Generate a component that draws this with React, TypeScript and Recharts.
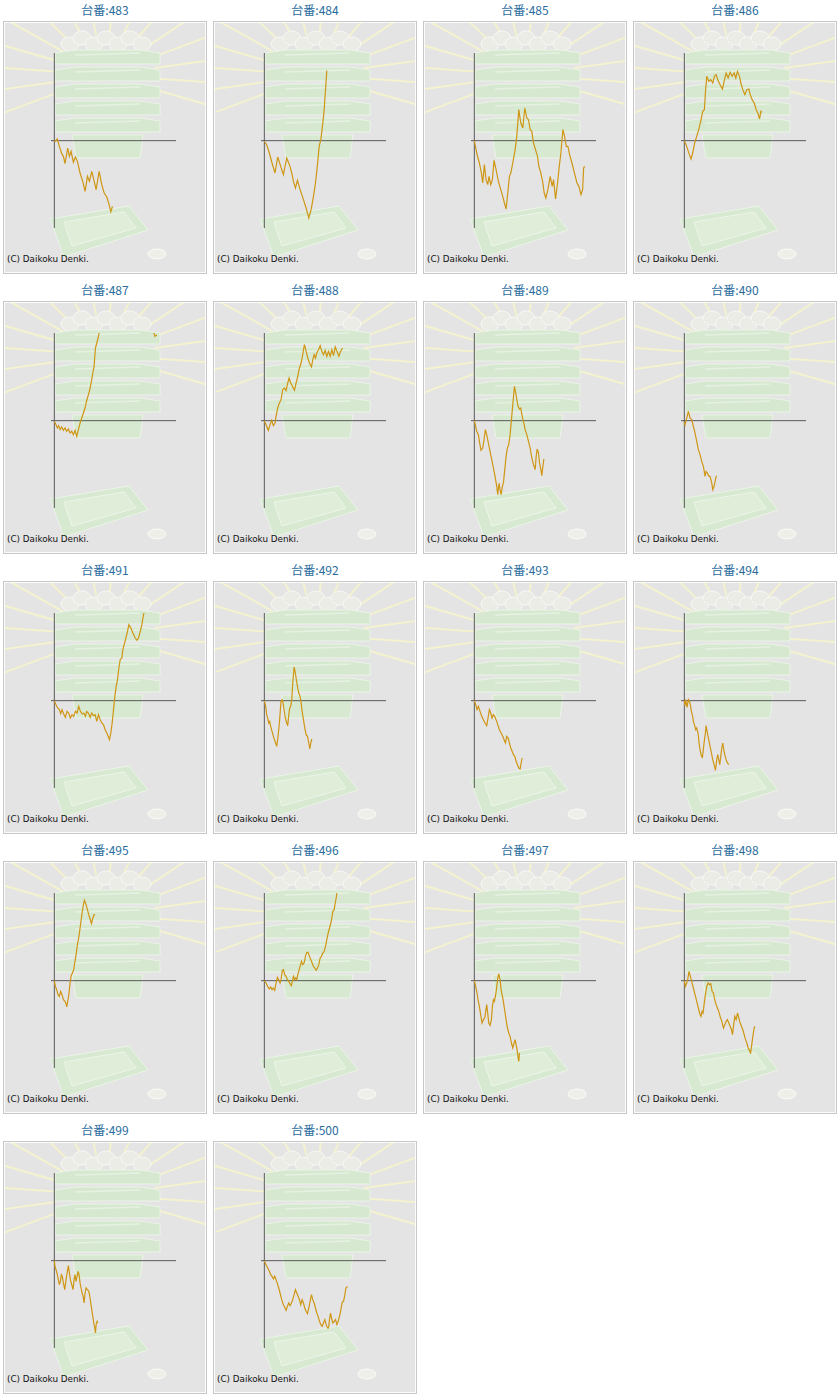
// Slot machine coin difference graphs, machines 483-500

import { LineChart, Line, XAxis, YAxis, ReferenceLine } from 'recharts';

// each point: [games, coin difference] (arbitrary units)
const m483: [number, number][] = [
  [0, 0], [2, -2], [9, 5], [15, -17], [22, -39], [27, -47], [32, -69], [40, -22], [45, -47],
  [50, -32], [57, -65], [63, -49], [69, -62], [77, -97], [85, -122], [92, -152], [99, -107],
  [105, -122], [112, -92], [118, -117], [125, -147], [134, -92], [142, -132], [149, -157],
  [157, -169], [163, -189], [169, -213], [174, -197],
];
const m484: [number, number][] = [
  [0, -2], [7, -12], [15, -37], [23, -67], [32, -97], [40, -49], [49, -77], [57, -102], [67, -52],
  [75, -72], [82, -97], [87, -122], [93, -142], [99, -119], [107, -147], [117, -177], [125, -202],
  [133, -232], [140, -207], [147, -167], [153, -127], [159, -72], [164, -17], [169, 3], [175, 53],
  [179, 93], [183, 153], [187, 210],
];
const m485: [number, number][] = [
  [0, 0], [7, -37], [15, -67], [21, -97], [25, -127], [30, -72], [35, -117], [40, -132], [44, -107],
  [49, -132], [54, -117], [59, -59], [65, -87], [72, -122], [79, -147], [85, -167], [90, -187],
  [95, -205], [100, -157], [105, -107], [109, -97], [115, -67], [122, -27], [127, 13], [133, 93],
  [139, 53], [145, 38], [151, 98], [157, 68], [162, 63], [167, 33], [172, 28], [177, -7], [183, -27],
  [189, -47], [193, -77], [199, -97], [205, -127], [209, -157], [214, -172], [220, -147], [227, -107],
  [233, -137], [237, -117], [243, -175], [249, -127], [254, -77], [259, -37], [265, 33], [270, 13],
  [275, -17], [280, -17], [285, -42], [292, -67], [297, -87], [302, -107], [307, -127], [313, -137],
  [319, -162], [324, -147], [327, -82], [330, -77],
];
const m486: [number, number][] = [
  [0, 0], [7, -17], [15, -42], [20, -55], [25, -37], [31, -7], [37, 13], [43, 33], [49, 58], [55, 88],
  [60, 93], [63, 143], [67, 193], [73, 178], [79, 183], [85, 173], [90, 193], [95, 198], [100, 183],
  [107, 168], [114, 155], [119, 178], [125, 203], [131, 188], [137, 205], [143, 193], [149, 203],
  [154, 188], [159, 208], [165, 193], [169, 173], [175, 153], [181, 138], [187, 153], [193, 155],
  [197, 138], [203, 123], [209, 113], [215, 93], [220, 83], [225, 65], [229, 88], [232, 85],
];
const m487: [number, number][] = [
  [0, -2], [5, -12], [9, -22], [13, -15], [17, -27], [22, -19], [27, -29], [32, -22], [37, -32],
  [42, -25], [47, -37], [52, -32], [57, -42], [62, -29], [67, -47], [72, -27], [77, -7], [82, 8],
  [87, 23], [92, 38], [95, 53], [99, 68], [104, 85], [107, 98], [111, 118], [115, 143], [119, 163],
  [121, 193], [123, 218], [127, 233], [131, 248], [134, 263], [150, 300], [190, 360], [230, 340],
  [265, 310], [290, 290], [301, 253], [307, 257],
];
const m488: [number, number][] = [
  [0, 0], [5, -12], [12, -29], [17, -12], [22, 1], [27, -15], [32, -7], [35, 13], [40, 38], [45, 53],
  [50, 63], [55, 93], [60, 98], [65, 90], [70, 113], [74, 128], [79, 113], [84, 103], [90, 91],
  [95, 113], [100, 133], [105, 158], [110, 173], [114, 193], [117, 213], [120, 228], [125, 208],
  [130, 188], [135, 173], [141, 161], [145, 183], [149, 198], [153, 188], [157, 203], [162, 213],
  [167, 225], [172, 208], [177, 198], [182, 211], [187, 193], [192, 208], [197, 193], [202, 213],
  [207, 195], [212, 221], [217, 208], [223, 193], [227, 205], [234, 218],
];
const m489: [number, number][] = [
  [0, 0], [4, -17], [7, -32], [12, -42], [15, -62], [20, -89], [25, -82], [29, -57], [33, -27],
  [37, -42], [42, -67], [47, -92], [52, -117], [57, -142], [62, -167], [67, -197], [70, -222],
  [74, -187], [77, -207], [80, -222], [84, -197], [87, -187], [91, -147], [95, -107], [99, -82],
  [103, -72], [107, -42], [111, 3], [115, 48], [120, 103], [124, 83], [127, 63], [131, 43], [135, 35],
  [139, 38], [143, 13], [147, -2], [152, -27], [157, -42], [162, -62], [167, -82], [172, -112],
  [177, -132], [182, -147], [185, -107], [188, -85], [192, -97], [195, -127], [199, -147],
  [202, -165], [205, -137], [208, -115],
];
const m490: [number, number][] = [
  [0, -5], [2, -12], [6, 3], [12, 28], [17, 8], [22, 3], [27, -17], [32, -37], [37, -62], [42, -87],
  [47, -102], [52, -122], [57, -137], [62, -167], [65, -152], [69, -157], [72, -165], [77, -167],
  [82, -187], [85, -207], [89, -197], [93, -177], [96, -165],
];
const m491: [number, number][] = [
  [0, 0], [5, -12], [10, -22], [15, -27], [19, -39], [23, -27], [28, -40], [33, -50], [38, -32],
  [43, -37], [48, -52], [53, -42], [58, -47], [63, -32], [68, -37], [73, -17], [78, -32], [83, -40],
  [88, -37], [93, -47], [97, -32], [102, -37], [107, -50], [112, -37], [117, -45], [122, -42],
  [127, -62], [132, -42], [137, -57], [142, -67], [147, -72], [152, -87], [157, -97], [161, -107],
  [165, -117], [169, -97], [173, -67], [177, -27], [181, 13], [185, 43], [189, 63], [193, 98],
  [197, 123], [202, 128], [205, 153], [209, 168], [214, 188], [219, 208], [223, 228], [229, 218],
  [235, 203], [242, 188], [247, 181], [252, 188], [257, 208], [262, 228], [265, 248], [268, 263],
];
const m492: [number, number][] = [
  [0, 0], [4, -17], [7, -42], [10, -52], [13, -67], [16, -62], [19, -77], [23, -92], [27, -107],
  [32, -122], [37, -137], [41, -107], [45, -67], [48, -27], [50, -2], [53, 3], [56, -7], [59, -27],
  [63, -52], [67, -67], [70, -75], [73, -42], [76, -22], [79, -17], [82, 3], [85, 53], [89, 101],
  [92, 88], [95, 68], [99, 43], [103, 23], [107, 13], [110, -7], [113, -32], [117, -57], [121, -82],
  [125, -102], [129, -107], [133, -127], [136, -145], [139, -127], [142, -115],
];
const m493: [number, number][] = [
  [0, 0], [4, -12], [8, -27], [12, -17], [17, -32], [22, -47], [27, -57], [32, -67], [37, -75],
  [41, -52], [45, -27], [49, -37], [53, -52], [57, -42], [61, -47], [65, -57], [70, -72], [75, -87],
  [80, -97], [85, -107], [89, -117], [93, -127], [97, -107], [101, -112], [105, -127], [109, -142],
  [113, -152], [117, -162], [121, -167], [125, -182], [129, -192], [133, -202], [137, -205],
  [140, -187], [143, -172],
];
const m494: [number, number][] = [
  [0, 0], [2, -15], [4, 3], [8, -20], [12, 3], [17, -7], [21, -32], [25, -47], [27, -62], [31, -75],
  [34, -87], [37, -82], [41, -97], [44, -127], [47, -147], [50, -162], [54, -172], [59, -127],
  [63, -97], [65, -75], [69, -97], [73, -117], [77, -137], [81, -157], [85, -177], [89, -192],
  [93, -209], [97, -177], [100, -162], [103, -177], [106, -192], [109, -167], [112, -142],
  [115, -127], [118, -147], [121, -162], [125, -177], [129, -187], [133, -192],
];
const m495: [number, number][] = [
  [0, 0], [3, -17], [7, -27], [11, -42], [15, -47], [19, -32], [23, -42], [27, -57], [32, -62],
  [35, -69], [37, -79], [41, -57], [44, -37], [47, -7], [50, 13], [54, 23], [58, 33], [61, 53],
  [65, 78], [69, 108], [72, 123], [75, 143], [79, 173], [83, 203], [87, 228], [90, 241], [95, 228],
  [99, 213], [103, 198], [107, 185], [111, 171], [115, 188], [119, 198], [122, 198],
];
const m496: [number, number][] = [
  [0, 0], [5, -7], [10, -17], [15, -25], [19, -19], [23, -27], [27, -22], [31, -29], [35, -7],
  [39, 10], [43, 3], [47, -7], [50, 3], [54, 31], [57, 33], [61, 18], [65, 13], [69, 3], [73, -2],
  [77, -9], [81, -15], [85, 3], [87, 13], [91, 3], [94, 8], [97, 3], [100, 18], [103, 28], [107, 43],
  [111, 58], [115, 48], [119, 53], [123, 73], [127, 85], [131, 85], [135, 73], [139, 63], [143, 53],
  [147, 43], [151, 38], [155, 31], [159, 38], [163, 48], [167, 68], [171, 73], [175, 83], [179, 88],
  [183, 103], [187, 123], [191, 143], [195, 158], [199, 173], [202, 188], [205, 208], [209, 213],
  [212, 233], [215, 248], [217, 263],
];
const m497: [number, number][] = [
  [0, 0], [4, -17], [8, -37], [11, -57], [15, -77], [19, -102], [23, -127], [27, -117], [31, -112],
  [34, -92], [37, -72], [40, -97], [43, -127], [47, -134], [51, -117], [54, -77], [57, -57], [60, -62],
  [63, -47], [66, -27], [70, 8], [73, 20], [77, 3], [80, -27], [83, -42], [86, -57], [89, -77],
  [92, -97], [95, -117], [99, -142], [103, -157], [107, -167], [111, -187], [115, -202], [119, -187],
  [122, -177], [125, -192], [128, -207], [131, -232], [133, -242], [135, -217],
];
const m498: [number, number][] = [
  [0, 0], [3, -17], [7, -7], [10, 3], [14, 28], [18, 13], [22, -2], [27, -22], [32, -42], [37, -62],
  [42, -82], [47, -102], [50, -107], [53, -92], [56, -97], [59, -72], [63, -42], [67, -17], [71, -7],
  [75, -12], [79, -9], [83, -32], [87, -37], [91, -57], [95, -72], [99, -82], [103, -92], [107, -107],
  [112, -122], [117, -142], [121, -132], [125, -122], [129, -117], [133, -127], [137, -137],
  [141, -147], [144, -162], [147, -137], [151, -107], [155, -117], [159, -97], [163, -112],
  [167, -127], [171, -137], [175, -147], [179, -162], [183, -177], [187, -187], [191, -202],
  [195, -209], [198, -219], [201, -197], [205, -167], [209, -142], [211, -137],
];
const m499: [number, number][] = [
  [0, 0], [2, -17], [5, -27], [9, -42], [12, -57], [15, -72], [18, -62], [21, -42], [24, -47],
  [27, -67], [31, -87], [35, -57], [39, -32], [42, -15], [45, -37], [48, -57], [52, -72], [56, -87],
  [59, -57], [62, -42], [65, -62], [68, -47], [71, -32], [74, -42], [77, -67], [80, -82], [83, -97],
  [86, -107], [89, -127], [92, -97], [95, -82], [99, -87], [103, -92], [106, -107], [109, -127],
  [112, -147], [115, -167], [118, -187], [121, -202], [123, -217], [125, -192], [128, -182],
  [130, -187],
];
const m500: [number, number][] = [
  [0, 0], [5, -12], [10, -22], [15, -32], [19, -42], [23, -47], [27, -55], [31, -47], [35, -57],
  [39, -69], [43, -82], [47, -97], [52, -117], [57, -132], [62, -142], [65, -149], [69, -137],
  [73, -127], [77, -135], [81, -127], [85, -117], [89, -102], [93, -87], [97, -97], [101, -107],
  [105, -117], [109, -132], [113, -117], [117, -127], [121, -142], [125, -152], [129, -159],
  [133, -142], [137, -122], [141, -102], [145, -117], [149, -127], [153, -142], [157, -157],
  [161, -167], [165, -182], [169, -192], [173, -197], [177, -187], [181, -177], [185, -192],
  [189, -202], [192, -202], [195, -177], [198, -157], [201, -172], [205, -187], [209, -182],
  [213, -177], [217, -192], [221, -182], [225, -167], [229, -147], [233, -125], [237, -122],
  [241, -102], [244, -82], [249, -77],
];

const machines = [483, 484, 485, 486, 487, 488, 489, 490, 491, 492, 493, 494, 495, 496, 497, 498, 499, 500];
const series = [m483, m484, m485, m486, m487, m488, m489, m490, m491, m492, m493, m494, m495, m496, m497, m498, m499, m500];

const gameDomain: [number, number] = [-10, 364];
const diffDomain: [number, number] = [-262, 263];

const rayAngles = [-20, -5, 10, 25, 40, 55, 70, 85, 100, 115, 130, 145, 160, 175, 190, 205];

function Backdrop({ id }: { id: number }) {
  const clip = `frame-${id}`;
  const cx = 105;
  const cy = 75;
  const layers = [50, 67, 84, 101, 118];
  return (
    <svg width={210} height={280} style={{ position: 'absolute', left: 0, top: 0 }}>
      <defs>
        <clipPath id={clip}>
          <rect x={5} y={23} width={200} height={249} />
        </clipPath>
      </defs>
      <g clipPath={`url(#${clip})`}>
        {rayAngles.map((a) => {
          const r = (a * Math.PI) / 180;
          return (
            <line key={a} x1={cx + 50 * Math.cos(r)} y1={cy - 40 * Math.sin(r)}
              x2={cx + 150 * Math.cos(r)} y2={cy - 120 * Math.sin(r)}
              stroke="#f4f2cf" strokeWidth={2} />
          );
        })}
        {[70, 82, 94, 106, 118, 130, 142].map((x, i) => (
          <ellipse key={x} cx={x} cy={i % 2 ? 38 : 44} rx={9} ry={7} fill="#ececE6" stroke="#f8f8f4" />
        ))}
        <path d="M72 135 L143 135 L140 158 L76 158 Z" fill="#d7e9d1" stroke="#eaf4e7" />
        {layers.map((y) => (
          <g key={y}>
            <path d={`M55 ${y + 3} L75 ${y} L140 ${y} L160 ${y + 3} L160 ${y + 14} L55 ${y + 14} Z`}
              fill="#d6e8d0" stroke="#eaf4e7" />
            <line x1={75} y1={y + 5} x2={140} y2={y + 3} stroke="#e6f1e2" strokeWidth={1.5} />
          </g>
        ))}
        <path d="M50 219 L129 206 L148 230 L64 257 Z" fill="#d8e9d2" stroke="#eaf4e7" />
        <path d="M64 222 L124 212 L136 228 L72 246 Z" fill="#dfedd9" stroke="#ecf5e9" />
        <ellipse cx={157} cy={254} rx={9} ry={5} fill="#efefea" stroke="#fbfbf8" />
      </g>
    </svg>
  );
}

function Panel({ id, pts, col, row }: { id: number; pts: [number, number][]; col: number; row: number }) {
  const data = pts.map(([g, d]) => ({ g, d }));
  return (
    <div style={{ position: 'absolute', left: col * 210, top: row * 280, width: 210, height: 280 }}>
      <div style={{
        position: 'absolute', top: 2, left: 0, width: 210, textAlign: 'center', lineHeight: '16px',
        fontSize: 12, color: '#2a6c9e', fontFamily: '"Noto Sans CJK JP", "Noto Sans", sans-serif',
      }}>
        台番:{id}
      </div>
      <div style={{
        position: 'absolute', left: 3, top: 21, width: 202, height: 251, border: '1px solid #c8c8c8',
        background: '#e4e4e4', boxShadow: 'inset 0 0 0 1px #fbfbfb',
      }} />
      <Backdrop id={id} />
      <div style={{ position: 'absolute', left: 51, top: 53 }}>
        <LineChart width={125} height={175} data={data} margin={{ top: 0, right: 0, bottom: 0, left: 0 }}>
          <XAxis dataKey="g" type="number" domain={gameDomain} hide />
          <YAxis type="number" domain={diffDomain} hide allowDataOverflow />
          <ReferenceLine y={0} stroke="#5a5a5a" strokeWidth={1} />
          <ReferenceLine x={0} stroke="#5a5a5a" strokeWidth={1} />
          <Line dataKey="d" type="linear" stroke="#cf9614" strokeWidth={1.2} dot={false} isAnimationActive={false} />
        </LineChart>
      </div>
      <div style={{
        position: 'absolute', left: 7, top: 254, fontSize: 8.8, lineHeight: '10px', color: '#111',
        fontFamily: '"DejaVu Sans", sans-serif',
      }}>
        (C) Daikoku Denki.
      </div>
    </div>
  );
}

export default function App() {
  return (
    <div style={{ position: 'relative', width: 840, height: 1400, background: '#fff' }}>
      <style>{'body { margin: 0; }'}</style>
      {machines.map((id, i) => (
        <Panel key={id} id={id} pts={series[i]} col={i % 4} row={Math.floor(i / 4)} />
      ))}
    </div>
  );
}
